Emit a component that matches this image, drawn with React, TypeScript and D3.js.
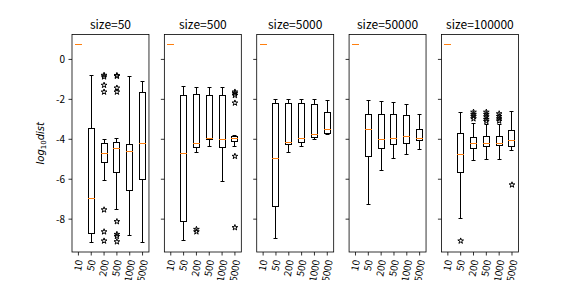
import * as d3 from "d3";

const width = 576,
  height = 288,
  marginLeft = 72,
  marginRight = 57.6,
  marginTop = 34.56,
  marginBottom = 36;

const categories = ["10", "50", "200", "500", "1000", "5000"];
const sizes = [50, 500, 5000, 50000, 100000];

// [whisker low, q1, median, q3, whisker high] per category
const stats50 = [
  [0.75, 0.75, 0.75, 0.75, 0.75],
  [-9.15, -8.71, -6.96, -3.47, -0.82],
  [-6.04, -5.15, -4.73, -4.23, -4.01],
  [-7.5, -5.64, -4.48, -4.14, -3.96],
  [-8.84, -6.54, -4.6, -4.28, -0.87],
  [-9.15, -5.99, -4.23, -1.66, -1.09],
];
const stats500 = [
  [0.75, 0.75, 0.75, 0.75, 0.75],
  [-9.09, -8.1, -4.73, -1.81, -1.36],
  [-4.68, -4.41, -4.23, -1.76, -1.41],
  [-4.36, -4.03, -3.98, -1.81, -1.41],
  [-6.09, -4.41, -4.03, -1.81, -1.41],
  [-4.36, -4.11, -3.96, -3.85, -3.8],
];
const stats5000 = [
  [0.75, 0.75, 0.75, 0.75, 0.75],
  [-8.96, -7.35, -4.98, -2.23, -2.01],
  [-4.68, -4.28, -4.14, -2.23, -2.01],
  [-4.38, -4.14, -3.98, -2.23, -2.01],
  [-3.99, -3.91, -3.74, -2.28, -2.01],
  [-3.74, -3.72, -3.51, -2.67, -2.05],
];
const stats50000 = [
  [0.75, 0.75, 0.75, 0.75, 0.75],
  [-7.28, -4.87, -3.52, -2.74, -2.06],
  [-5.54, -4.46, -4.03, -2.74, -2.11],
  [-4.98, -4.28, -3.98, -2.74, -2.18],
  [-4.77, -4.23, -3.88, -2.79, -2.28],
  [-4.53, -4.08, -3.98, -3.51, -2.74],
];
const stats100000 = [
  [0.75, 0.75, 0.75, 0.75, 0.75],
  [-7.95, -5.64, -4.78, -3.69, -2.67],
  [-5.08, -4.48, -4.23, -3.93, -3.22],
  [-5.03, -4.38, -4.23, -3.88, -3.27],
  [-5.03, -4.33, -4.23, -3.88, -3.27],
  [-4.58, -4.38, -4.08, -3.57, -2.6],
];

// outliers: [category index, value]
const fliers50 = [
  [2, -0.79], [2, -0.87], [2, -1.29], [2, -1.63], [2, -7.53], [2, -8.63], [2, -9.09],
  [3, -0.8], [3, -0.84], [3, -1.43], [3, -1.63], [3, -8.12], [3, -8.76], [3, -8.86], [3, -9.13],
];
const fliers500 = [
  [2, -8.51], [2, -8.63],
  [5, -1.63], [5, -1.71], [5, -1.8], [5, -2.18], [5, -4.85], [5, -8.42],
];
const fliers5000: number[][] = [];
const fliers50000: number[][] = [];
const fliers100000 = [
  [1, -9.09],
  [2, -2.64], [2, -2.75], [2, -2.85], [2, -2.97],
  [3, -2.64], [3, -2.75], [3, -2.87], [3, -3.0], [3, -3.1],
  [4, -2.72], [4, -2.85], [4, -2.97], [4, -3.08],
  [5, -6.28],
];

const allStats = [stats50, stats500, stats5000, stats50000, stats100000];
const allFliers = [fliers50, fliers500, fliers5000, fliers50000, fliers100000];

const font = "'Noto Sans CJK SC', 'DejaVu Sans', sans-serif";

// snap to pixel centre, like matplotlib does for 1px lines
const snap = (v: number) => Math.round(v - 0.5) + 0.5;

// matplotlib '*' marker, radius 3
const starPath = (() => {
  const p = d3.path();
  for (let i = 0; i < 10; i++) {
    const a = (Math.PI / 5) * i;
    const r = i % 2 === 0 ? 3 : 3 * 0.381966;
    const x = r * Math.sin(a),
      y = -r * Math.cos(a);
    i === 0 ? p.moveTo(x, y) : p.lineTo(x, y);
  }
  p.closePath();
  return p.toString();
})();

export default function App() {
  const plotW = width - marginLeft - marginRight;
  const panelW = plotW / (5 + 4 * 0.2);
  const gap = panelW * 0.2;
  const bottomY = height - marginBottom;

  const allVals = [
    ...allStats.flat(2),
    ...allFliers.flatMap((f) => f.map((d) => d[1])),
  ];
  const [lo, hi] = d3.extent(allVals) as [number, number];
  const pad = (hi - lo) * 0.05;
  const y = d3.scaleLinear([lo - pad, hi + pad], [bottomY, marginTop]);
  const yTicks = y.ticks(5);

  return (
    <svg width={width} height={height} style={{ display: "block", margin: "-8px" }}>
      <rect width={width} height={height} fill="white" />
      {sizes.map((size, pi) => {
        const x0 = marginLeft + pi * (panelW + gap);
        const x = d3
          .scalePoint<string>()
          .domain(categories)
          .range([x0, x0 + panelW])
          .padding(0.5);
        const step = x.step();
        const bw = step * 0.5;
        const cw = step * 0.25;
        const stats = allStats[pi];
        const fliers = allFliers[pi];
        return (
          <g key={size}>
            <text
              x={x0 + panelW / 2}
              y={marginTop - 5.6}
              textAnchor="middle"
              fontFamily={font}
              fontSize={12}
              fill="black"
            >
              {`size=${size}`}
            </text>
            {stats.map((s, i) => {
              const cx = snap(x(categories[i])!);
              const [wl, q1, med, q3, wh] = s.map((v) => snap(y(v)));
              const bl = snap(cx - bw / 2),
                br = snap(cx + bw / 2);
              const cl = snap(cx - cw / 2),
                cr = snap(cx + cw / 2);
              return (
                <g key={i} fill="none" strokeWidth={1}>
                  <line x1={cx} x2={cx} y1={q1} y2={wl} stroke="black" />
                  <line x1={cx} x2={cx} y1={q3} y2={wh} stroke="black" />
                  <line x1={cl} x2={cr} y1={wl} y2={wl} stroke="black" />
                  <line x1={cl} x2={cr} y1={wh} y2={wh} stroke="black" />
                  <rect x={bl} y={q3} width={br - bl} height={Math.max(0, q1 - q3)} stroke="black" />
                  <line
                    x1={bl}
                    x2={br}
                    y1={med}
                    y2={med}
                    stroke="#ff7f0e"
                    strokeLinecap="square"
                  />
                </g>
              );
            })}
            {fliers.map((f, i) => (
              <path
                key={i}
                d={starPath}
                transform={`translate(${x(categories[f[0]])},${y(f[1])})`}
                fill="none"
                stroke="black"
                strokeWidth={1}
                strokeLinejoin="miter"
              />
            ))}
            <rect
              x={x0}
              y={marginTop}
              width={panelW}
              height={bottomY - marginTop}
              fill="none"
              stroke="black"
              strokeWidth={0.8}
            />
            {yTicks.map((t) => (
              <g key={t}>
                <line x1={x0 - 3.5} x2={x0} y1={y(t)} y2={y(t)} stroke="black" strokeWidth={0.8} />
                {pi === 0 && (
                  <text
                    x={x0 - 7}
                    y={y(t)}
                    dy="0.35em"
                    textAnchor="end"
                    fontFamily={font}
                    fontSize={10}
                    fill="black"
                  >
                    {String(t)}
                  </text>
                )}
              </g>
            ))}
            {categories.map((c) => {
              const cx = x(c)!;
              const w = c.length * 5.5;
              const h = 11;
              const rot = (80 * Math.PI) / 180;
              const hr = w * Math.sin(rot) + h * Math.cos(rot);
              return (
                <g key={c}>
                  <line x1={cx} x2={cx} y1={bottomY} y2={bottomY + 3.5} stroke="black" strokeWidth={0.8} />
                  <text
                    transform={`translate(${cx},${bottomY + 7 + hr / 2}) rotate(-80)`}
                    textAnchor="middle"
                    dy="0.35em"
                    fontFamily={font}
                    fontSize={10}
                    fill="black"
                  >
                    {c}
                  </text>
                </g>
              );
            })}
          </g>
        );
      })}
      <text
        transform={`translate(44,${(marginTop + bottomY) / 2}) rotate(-90)`}
        textAnchor="middle"
        fontFamily="'DejaVu Sans', sans-serif"
        fontSize={10}
        fill="black"
      >
        <tspan fontStyle="italic">log</tspan>
        <tspan fontSize={7} dy={2}>10</tspan>
        <tspan fontStyle="italic" dy={-2}>dist</tspan>
      </text>
    </svg>
  );
}
